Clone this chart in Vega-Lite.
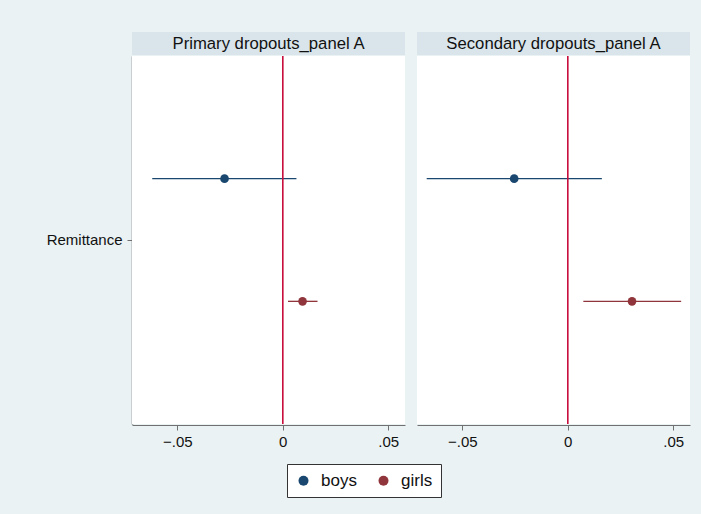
{
  "$schema": "https://vega.github.io/schema/vega-lite/v6.json",
  "background": "#eaf2f3",
  "padding": {"left": 46, "top": 32, "right": 11, "bottom": 17},
  "config": {
    "font": "Liberation Sans",
    "view": {"stroke": null},
    "axis": {"labelFont": "Liberation Sans", "labelColor": "#111111", "domainColor": "#707070", "tickColor": "#707070", "grid": false, "tickSize": 5}
  },
  "data": {
    "values": [
      {"panel": "Primary dropouts_panel A", "var": "Remittance", "group": "boys", "b": -0.0276, "lo": -0.0619, "hi": 0.0065},
      {"panel": "Primary dropouts_panel A", "var": "Remittance", "group": "girls", "b": 0.0094, "lo": 0.0025, "hi": 0.0165},
      {"panel": "Secondary dropouts_panel A", "var": "Remittance", "group": "boys", "b": -0.0254, "lo": -0.0669, "hi": 0.0162},
      {"panel": "Secondary dropouts_panel A", "var": "Remittance", "group": "girls", "b": 0.0305, "lo": 0.0074, "hi": 0.0538}
    ]
  },
  "resolve": {"scale": {"x": "independent", "y": "independent"}},
  "spacing": 0,
  "vconcat": [
    {
      "transform": [{"aggregate": [{"op": "count", "as": "n"}], "groupby": ["panel", "var"]}],
      "facet": {"column": {"field": "panel", "type": "nominal", "header": null}},
      "spacing": {"column": 12},
      "spec": {
        "width": 273,
        "height": 23,
        "view": {"fill": "#d9e5eb", "stroke": null},
        "mark": {"type": "text", "fontSize": 16.7, "color": "#111111", "font": "Liberation Sans", "baseline": "middle"},
        "encoding": {
          "text": {"field": "panel", "type": "nominal"},
          "y": {"field": "var", "type": "nominal", "axis": {"title": null, "labelFontSize": 15, "labelColor": "transparent", "tickColor": "transparent", "domain": false, "labelPadding": 5}}
        }
      }
    },
    {
      "facet": {"column": {"field": "panel", "type": "nominal", "header": null}},
      "spacing": {"column": 12},
      "spec": {
        "width": 273,
        "height": 368,
        "view": {"fill": "white", "stroke": null},
        "layer": [
          {
            "mark": {"type": "rule", "strokeWidth": 1.3},
            "encoding": {
              "y": {"field": "var", "type": "nominal"},
              "yOffset": {"field": "group", "type": "nominal"},
              "x": {"field": "lo", "type": "quantitative"},
              "x2": {"field": "hi"},
              "color": {"field": "group", "type": "nominal"}
            }
          },
          {
            "mark": {"type": "point", "filled": true, "shape": "circle", "size": 75, "opacity": 1},
            "encoding": {
              "y": {"field": "var", "type": "nominal", "title": null,
                "scale": {"paddingInner": 0, "paddingOuter": 0},
                "axis": {"labelFontSize": 15, "labelPadding": 5, "domainColor": "#6a6a6a", "domainWidth": 1.5}},
              "yOffset": {"field": "group", "type": "nominal", "scale": {"paddingInner": 0, "paddingOuter": 0.5}},
              "x": {"field": "b", "type": "quantitative", "title": null,
                "scale": {"domain": [-0.0715, 0.058], "nice": false, "zero": false},
                "axis": {"values": [-0.05, 0, 0.05], "labelFontSize": 15, "labelPadding": 4,
                  "labelExpr": "datum.value == 0 ? '0' : replace(format(datum.value, '.2f'), '0.', '.')"}},
              "color": {"field": "group", "type": "nominal",
                "scale": {"domain": ["boys", "girls"], "range": ["#1a476f", "#90353b"]},
                "legend": {"title": null, "orient": "none", "legendX": 155, "legendY": 432, "direction": "horizontal",
                  "fillColor": "white", "strokeColor": "#333333", "padding": 8, "symbolSize": 100, "symbolType": "circle",
                  "labelFontSize": 17, "labelFont": "Liberation Sans", "labelColor": "#111111", "labelOffset": 9, "columnPadding": 18, "symbolStrokeWidth": 0}}
            }
          },
          {
            "mark": {"type": "rule", "color": "#c8103e", "strokeWidth": 1.3},
            "encoding": {"x": {"datum": 0}}
          }
        ]
      }
    }
  ]
}
